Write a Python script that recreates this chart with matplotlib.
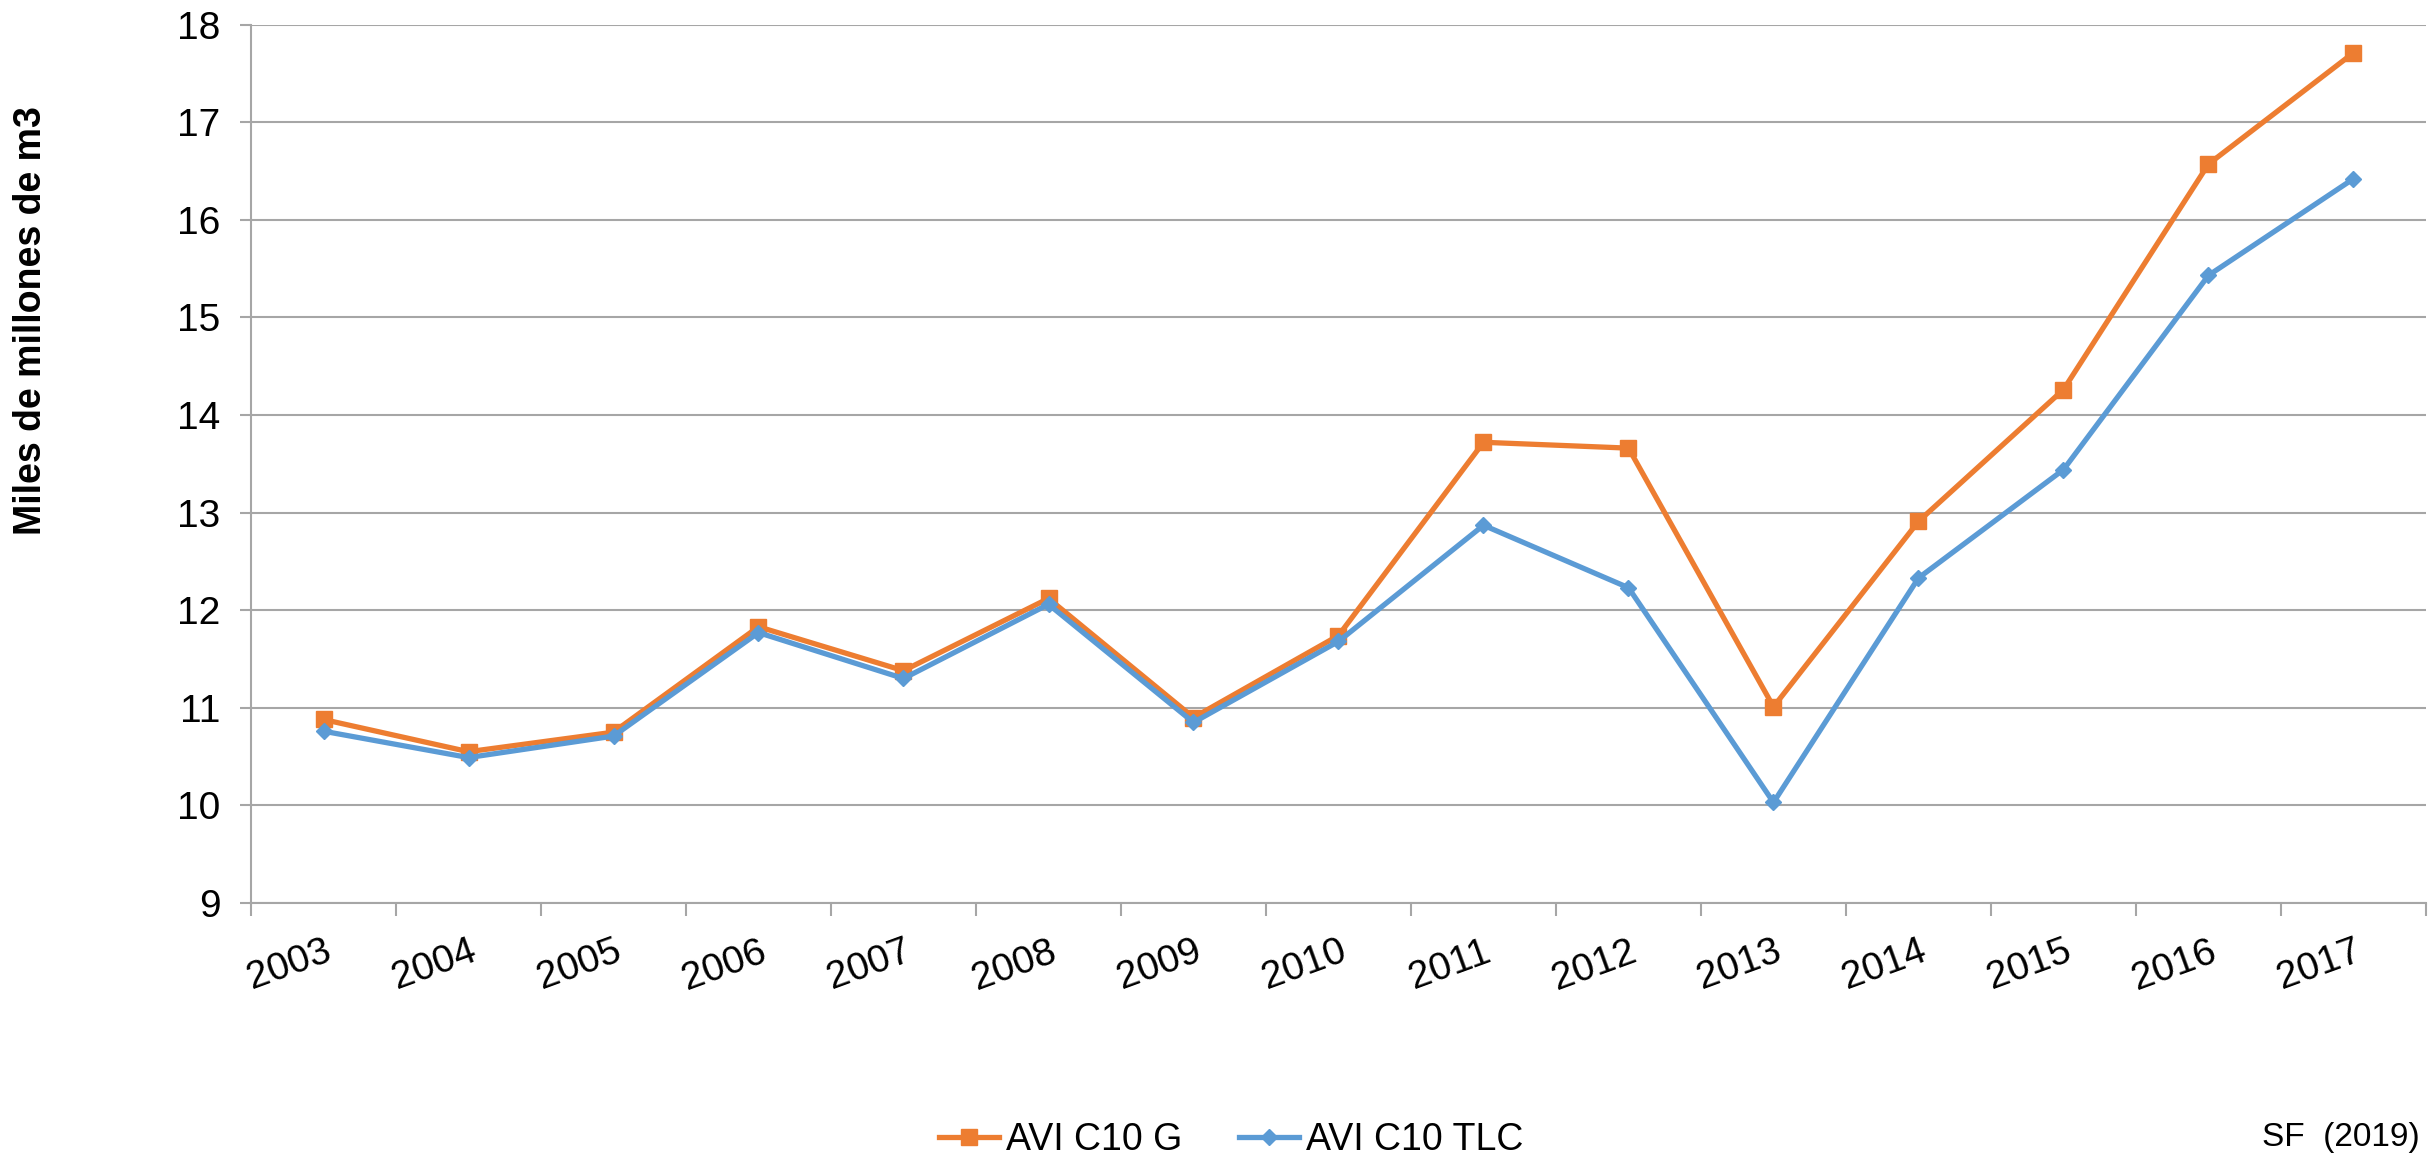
import matplotlib
matplotlib.use("Agg")
import matplotlib.pyplot as plt
import numpy as np

years = ["2003", "2004", "2005", "2006", "2007", "2008", "2009", "2010",
         "2011", "2012", "2013", "2014", "2015", "2016", "2017"]
avi_g = [10.88, 10.55, 10.75, 11.83, 11.38, 12.12, 10.90, 11.74,
         13.72, 13.66, 11.01, 12.91, 14.26, 16.57, 17.71]
avi_tlc = [10.76, 10.49, 10.71, 11.77, 11.30, 12.06, 10.85, 11.68,
           12.87, 12.23, 10.03, 12.33, 13.44, 15.43, 16.42]
series_names = ["AVI C10 G", "AVI C10 TLC"]
y_ticks = [9, 10, 11, 12, 13, 14, 15, 16, 17, 18]

plt.rcParams['font.family'] = ['Liberation Sans', 'DejaVu Sans']
W, H = 2428, 1158
fig = plt.figure(figsize=(W / 100, H / 100), dpi=100)
ax = fig.add_axes([251 / W, 1 - 903 / H, (2426 - 251) / W, (903 - 24.5) / H])

grey = '#A6A6A6'
x = np.arange(len(years))
ax.plot(x, avi_g, color='#ED7D31', lw=3.8, marker='s', ms=11, label=series_names[0], zorder=3)
ax.plot(x, avi_tlc, color='#5B9BD5', lw=3.8, marker='D', ms=8.5, label=series_names[1], zorder=3)

ax.set_xlim(-0.5, len(years) - 0.5)
ax.set_ylim(9, 18)
ax.set_yticks(y_ticks)
ax.set_yticklabels([str(v) for v in y_ticks], fontsize=28)
ax.yaxis.grid(True, color=grey, lw=1.5)
ax.set_axisbelow(True)
ax.tick_params(axis='y', length=8, width=1.5, color=grey, pad=14)

ax.set_xticks(x)
ax.set_xticklabels(years, fontsize=28, rotation=20, ha='right', rotation_mode='anchor')
ax.tick_params(axis='x', which='major', length=0, pad=22)
ax.set_xticks(np.arange(-0.5, len(years)), minor=True)
ax.tick_params(axis='x', which='minor', length=9, width=1.5, color=grey)

for s in ['top', 'right']:
    ax.spines[s].set_visible(False)
for s in ['left', 'bottom']:
    ax.spines[s].set_color(grey)
    ax.spines[s].set_linewidth(1.5)

fig.text(31 / W, 1 - 321 / H, 'Miles de millones de m3', rotation=90,
         ha='center', va='center', fontsize=27, fontweight='bold')

fig.legend(loc='center', bbox_to_anchor=(0.507, 1 - 1140 / H), ncol=2, frameon=False,
           fontsize=27, handlelength=1.6, handletextpad=0.2, columnspacing=1.5)

fig.text(2420 / W, 1 - 1153 / H, 'SF  (2019)', ha='right', va='bottom', fontsize=24)

fig.savefig('out.png', dpi=100)
